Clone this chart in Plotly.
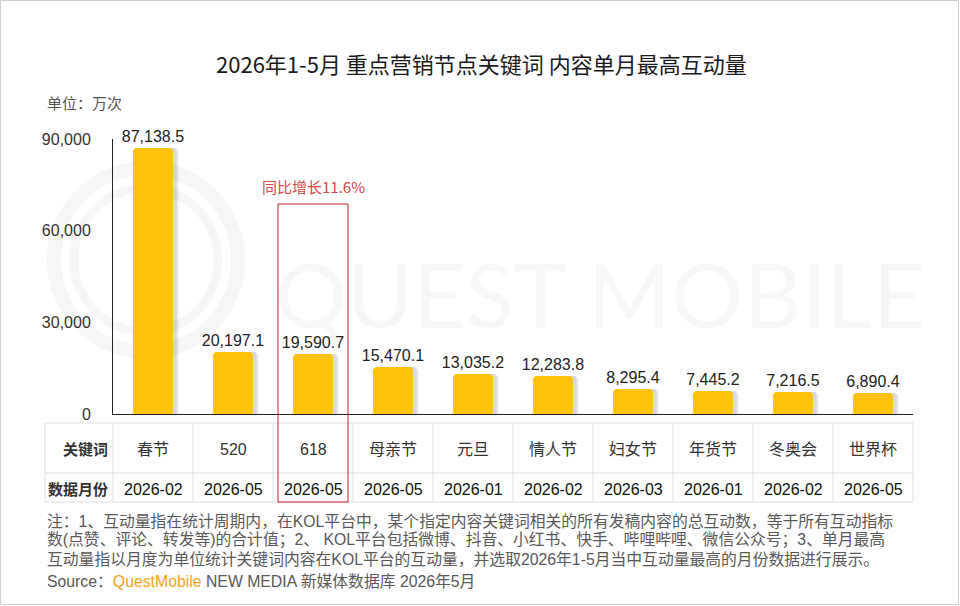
import plotly.graph_objects as go

keywords = ['春节', '520', '618', '母亲节', '元旦', '情人节', '妇女节', '年货节', '冬奥会', '世界杯']
months = ['2026-02', '2026-05', '2026-05', '2026-05', '2026-01', '2026-02', '2026-03', '2026-01', '2026-02', '2026-05']
interactions = [87138.5, 20197.1, 19590.7, 15470.1, 13035.2, 12283.8, 8295.4, 7445.2, 7216.5, 6890.4]
y_ticks = [0, 30000, 60000, 90000]

title_text = '2026年1-5月 重点营销节点关键词 内容单月最高互动量'
unit_text = '单位：万次'
growth_text = '同比增长11.6%'
notes = [
    '注：1、互动量指在统计周期内，在KOL平台中，某个指定内容关键词相关的所有发稿内容的总互动数，等于所有互动指标',
    '数(点赞、评论、转发等)的合计值；2、 KOL平台包括微博、抖音、小红书、快手、哔哩哔哩、微信公众号；3、单月最高',
    '互动量指以月度为单位统计关键词内容在KOL平台的互动量，并选取2026年1-5月当中互动量最高的月份数据进行展示。',
]

W, H = 960, 606
L, R, T, B = 113, 913, 139, 414
FONT = 'Liberation Sans, Noto Sans CJK SC, sans-serif'
CJK = 'Noto Sans CJK SC, sans-serif'


def px_x(p):
    return (p - L) / (R - L)


def px_y(p):
    return (B - p) / (B - T)


bw = 0.49
fig = go.Figure()
# soft shadow to the right of each bar
for dx, alpha in [(0.085, 0.05), (0.05, 0.10)]:
    fig.add_trace(go.Bar(x=keywords, y=interactions, width=bw, offset=-bw / 2 + dx,
                         marker=dict(color='rgba(0,0,0,%s)' % alpha, cornerradius=4, line_width=0),
                         hoverinfo='skip', showlegend=False))
fig.add_trace(go.Bar(x=keywords, y=interactions, width=bw, offset=-bw / 2,
                     marker=dict(color='#ffc30f', cornerradius=4, line_width=0),
                     texttemplate='%{y:,.1f}', textposition='outside', cliponaxis=False,
                     constraintext='none',
                     textfont=dict(family=FONT, size=16, color='#222'),
                     showlegend=False))

shapes = []
# watermark logo
cx, cy = 146, 260
for r, w in [(92, 14), (72, 9)]:
    shapes.append(dict(type='circle', xref='paper', yref='paper', layer='below',
                       x0=px_x(cx - r), x1=px_x(cx + r), y0=px_y(cy + r), y1=px_y(cy - r),
                       line=dict(color='rgba(0,0,0,0.035)', width=w)))

# table grid
grid = '#e0e0e0'
tx0 = px_x(45)
for yy in [423, 473, 502]:
    shapes.append(dict(type='line', xref='paper', yref='paper', x0=tx0, x1=1,
                       y0=px_y(yy), y1=px_y(yy), line=dict(color=grid, width=1)))
for xx in [tx0] + [i / len(keywords) for i in range(len(keywords) + 1)]:
    shapes.append(dict(type='line', xref='paper', yref='paper', x0=xx, x1=xx,
                       y0=px_y(423), y1=px_y(502), line=dict(color=grid, width=1)))

# highlight box around 618
shapes.append(dict(type='rect', xref='x', yref='paper', x0=2 - 0.4375, x1=2 + 0.4375,
                   y0=px_y(502), y1=px_y(204), line=dict(color='#c41e24', width=1)))

# outer frame
shapes.append(dict(type='rect', xref='paper', yref='paper', x0=px_x(0.5), x1=px_x(958.5),
                   y0=px_y(604.5), y1=px_y(0.5), line=dict(color='#cfcfcf', width=1)))

ann = []
ann.append(dict(text='QUEST MOBILE', x=px_x(600), y=px_y(293), font=dict(family='Lato, sans-serif', size=90,
                color='rgba(0,0,0,0.032)')))
ann.append(dict(text=title_text, x=px_x(481), y=px_y(63), font=dict(family=CJK, size=22, color='#1a1a1a')))
ann.append(dict(text=unit_text, x=px_x(45), y=px_y(102), xanchor='left',
                font=dict(family=CJK, size=15, color='#555')))
ann.append(dict(text=growth_text, x=2, xref='x', y=px_y(186),
                font=dict(family=CJK, size=15, color='#d4474c')))

ann.append(dict(text='<b>关键词</b>', x=px_x(110), y=px_y(448), xanchor='right',
                font=dict(family=CJK, size=15, color='#333')))
ann.append(dict(text='<b>数据月份</b>', x=px_x(110), y=px_y(488), xanchor='right',
                font=dict(family=CJK, size=15, color='#333')))
for i, (k, m) in enumerate(zip(keywords, months)):
    xc = (i + 0.5) / len(keywords)
    ann.append(dict(text=k, x=xc, y=px_y(449), font=dict(family=FONT, size=16, color='#333')))
    ann.append(dict(text=m, x=xc, y=px_y(489), font=dict(family=FONT, size=16, color='#111')))

for j, line in enumerate(notes):
    ann.append(dict(text=line, x=px_x(45), y=px_y(521 + 19 * j), xanchor='left',
                    font=dict(family=FONT, size=15.8, color='#595959')))
ann.append(dict(text='Source：<span style="color:#f2a31d">QuestMobile</span> NEW MEDIA 新媒体数据库 2026年5月',
                x=px_x(45), y=px_y(581), xanchor='left',
                font=dict(family=FONT, size=15.8, color='#595959')))

for a in ann:
    a.setdefault('xref', 'paper')
    a.setdefault('yref', 'paper')
    a.setdefault('xanchor', 'center')
    a['yanchor'] = 'middle'
    a['showarrow'] = False

fig.update_layout(
    width=W, height=H,
    margin=dict(l=L, r=W - R, t=T, b=H - B, pad=0),
    paper_bgcolor='white', plot_bgcolor='rgba(0,0,0,0)',
    barmode='overlay', bargap=0,
    shapes=shapes, annotations=ann,
    xaxis=dict(type='category', categoryorder='array', categoryarray=keywords, range=[-0.5, 9.5],
               showticklabels=False, ticks='', showgrid=False, zeroline=False,
               showline=True, linecolor='#222', linewidth=1, fixedrange=True),
    yaxis=dict(range=[0, 90000], tickvals=y_ticks, tickformat=',d', showgrid=False, zeroline=False,
               showline=True, linecolor='#222', linewidth=1, ticks='', ticklabelstandoff=18,
               tickfont=dict(family=FONT, size=16, color='#333'), fixedrange=True),
    hovermode=False,
)

# drop the browser's default page margin so the figure sits at the window origin
fig.write_html('out.html', config={'displayModeBar': False},
               post_script="document.body.style.margin='0';document.body.style.overflow='hidden';")
